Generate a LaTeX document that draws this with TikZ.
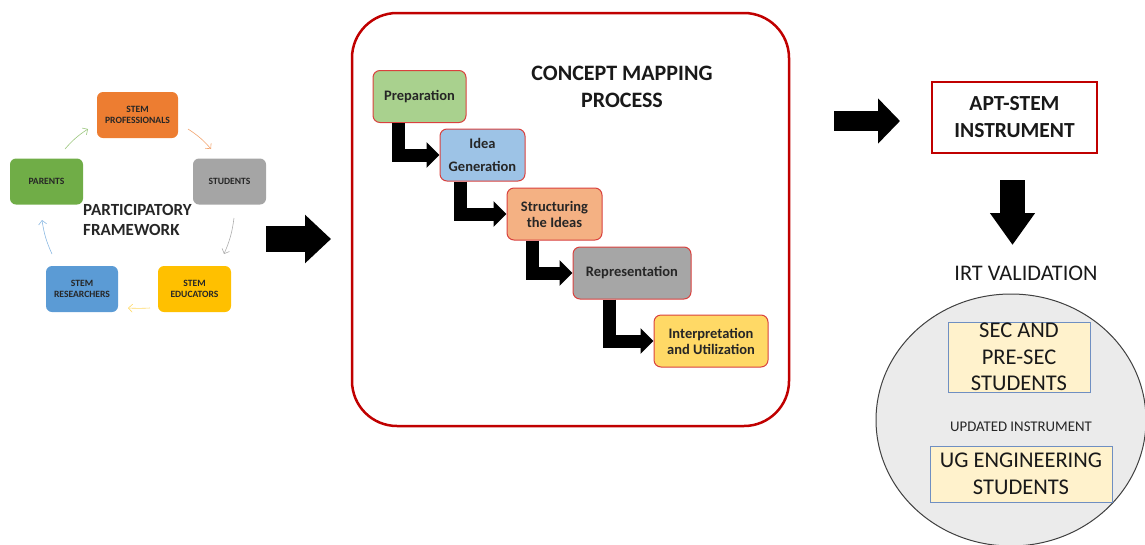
\documentclass[tikz,border=0pt]{standalone}
\usepackage{fontspec}
\setmainfont{Carlito}
\usetikzlibrary{arrows.meta,shapes.geometric}
\definecolor{cOrange}{HTML}{ED7D31}
\definecolor{cGray}{HTML}{A5A5A5}
\definecolor{cYellow}{HTML}{FFC000}
\definecolor{cBlue}{HTML}{5B9BD5}
\definecolor{cGreen}{HTML}{70AD47}
\definecolor{pGreen}{HTML}{A9D18E}
\definecolor{pBlue}{HTML}{9DC3E6}
\definecolor{pOrange}{HTML}{F4B183}
\definecolor{pGray}{HTML}{A6A6A6}
\definecolor{pYellow}{HTML}{FFD966}
\definecolor{pBorder}{HTML}{D9413E}
\definecolor{darkRed}{HTML}{C00000}
\definecolor{cream}{HTML}{FFF2CC}
\definecolor{boxBlue}{HTML}{6F8FC2}
\definecolor{ellFill}{HTML}{EBEBEB}
\begin{document}
\begin{tikzpicture}[x=1pt,y=-1pt,
  cyc/.style={rounded corners=6pt, minimum width=#1, minimum height=46pt, inner sep=1pt, align=center,
    font=\fontsize{9.6}{11}\selectfont\bfseries, text=black!85},
  procbox/.style={draw=pBorder, line width=1pt, rounded corners=7pt, minimum height=52pt, inner sep=2pt,
    align=center, font=\fontsize{14.5}{23}\selectfont\bfseries, text=black!85},
  elbow/.style={line width=13pt, -{Triangle[width=25pt,length=13pt]}},
  thin/.style={line width=0.6pt, -{Straight Barb[length=4pt,width=8pt]}},
  crbox/.style={draw=boxBlue, fill=cream, line width=0.8pt, inner sep=0pt, align=center,
    font=\fontsize{22.5}{26.5}\selectfont, text=black!90}
]
\useasboundingbox (0,0) rectangle (1145,544);

% participatory framework
\node[cyc=81pt, fill=cOrange] (prof) at (137.5,115) {STEM\\PROFESSIONALS};
\node[cyc=73pt, fill=cGray] (stud) at (229.5,181.5) {STUDENTS};
\node[cyc=73pt, fill=cYellow] (educ) at (194.5,289) {STEM\\EDUCATORS};
\node[cyc=72pt, fill=cBlue] (res) at (82,289) {STEM\\RESEARCHERS};
\node[cyc=73pt, fill=cGreen] (par) at (46.5,181.5) {PARENTS};
\node[anchor=west, align=left, inner sep=0pt, font=\fontsize{17}{20}\selectfont\bfseries, text=black!85] (pf) at (83,220) {PARTICIPATORY\\FRAMEWORK};

\coordinate (g1) at (65,149); \coordinate (g2) at (88,129);
\coordinate (o1) at (188,129); \coordinate (o2) at (211,149);
\coordinate (s1) at (234,218); \coordinate (s2) at (224,254);
\coordinate (y1) at (150,308); \coordinate (y2) at (128,308);
\coordinate (b1) at (52,254); \coordinate (b2) at (42,220);
\draw[thin, draw=cGreen!70] (g1) to[bend left=8] (g2);
\draw[thin, draw=cOrange!70] (o1) to[bend left=8] (o2);
\draw[thin, draw=cGray!90] (s1) to[bend left=8] (s2);
\draw[thin, draw=cYellow!60] (y1) to[bend left=3] (y2);
\draw[thin, draw=cBlue!70] (b1) to[bend left=8] (b2);

% big arrow 1
\coordinate (a1s) at (266,239); \coordinate (a1e) at (331,239);
\draw[line width=26pt, -{Triangle[width=47pt,length=26pt]}] (a1s) -- (a1e);

% concept mapping frame
\node[draw=darkRed, line width=2.5pt, rounded corners=45pt, minimum width=437pt, minimum height=413pt] (frame) at (570.5,219.5) {};
\node[align=center, font=\fontsize{22}{27}\selectfont\bfseries, text=black!90] (cmt) at (622,87) {CONCEPT MAPPING\\PROCESS};

\node[procbox, fill=pGreen, minimum width=93pt] (prep) at (419.5,96.5) {Preparation};
\node[procbox, fill=pBlue, minimum width=85pt] (idea) at (482.5,155) {Idea\\Generation};
\node[procbox, fill=pOrange, minimum width=95pt, font=\fontsize{14.5}{16}\selectfont\bfseries] (stru) at (554.5,214) {Structuring\\the Ideas};
\node[procbox, fill=pGray, minimum width=118pt] (repr) at (632,273) {Representation};
\node[procbox, fill=pYellow, minimum width=114pt, font=\fontsize{14.5}{16}\selectfont\bfseries] (intp) at (711,341) {Interpretation\\and Utilization};

\draw[elbow] ([xshift=25.5pt]prep.south west) |- (idea.west);
\draw[elbow] ([xshift=21pt]idea.south west) |- (stru.west);
\draw[elbow] ([xshift=26pt]stru.south west) |- (repr.west);
\draw[elbow] ([xshift=37pt]repr.south west) |- (intp.west);

% big arrow 2
\coordinate (a2s) at (834,121); \coordinate (a2e) at (900,121);
\draw[line width=20pt, -{Triangle[width=44pt,length=22pt]}] (a2s) -- (a2e);

\node[draw=darkRed, line width=2pt, minimum width=165pt, minimum height=71pt, align=center,
  font=\fontsize{21.5}{27}\selectfont\bfseries, text=black!90] (apt) at (1014.5,117.5) {APT-STEM\\INSTRUMENT};

\coordinate (a3s) at (1012.5,180); \coordinate (a3e) at (1012.5,245);
\draw[line width=25pt, -{Triangle[width=43pt,length=32pt]}] (a3s) -- (a3e);

\node[font=\fontsize{22.3}{24}\selectfont, text=black!90] (irt) at (1026,273) {IRT VALIDATION};

\node[ellipse, draw=black!75, fill=ellFill, line width=1pt, minimum width=270pt, minimum height=252pt, inner sep=0pt] (ell) at (1011,420) {};
\node[crbox, minimum width=142pt, minimum height=70pt] (sec) at (1019,357) {SEC AND\\PRE-SEC\\STUDENTS};
\node[font=\fontsize{14.8}{16}\selectfont, text=black!85] (upd) at (1021,427) {UPDATED INSTRUMENT};
\node[crbox, minimum width=182pt, minimum height=56pt] (ug) at (1021,474) {UG ENGINEERING\\STUDENTS};
\end{tikzpicture}
\end{document}
